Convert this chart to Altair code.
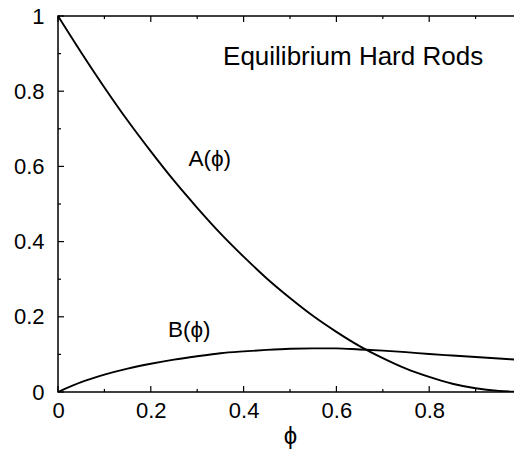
import altair as alt
import pandas as pd

# ---- data ----
phi = [0.0, 0.05, 0.1, 0.15, 0.2, 0.25, 0.3, 0.35, 0.4, 0.45, 0.5,
       0.55, 0.6, 0.65, 0.7, 0.75, 0.8, 0.85, 0.9, 0.95, 1.0]
A_vals = [1.0, 0.903, 0.81, 0.722, 0.64, 0.562, 0.49, 0.422, 0.36, 0.302, 0.25,
          0.202, 0.16, 0.122, 0.09, 0.062, 0.04, 0.022, 0.01, 0.003, 0.0]
B_vals = [0.0, 0.026, 0.046, 0.062, 0.075, 0.086, 0.095, 0.103, 0.108, 0.112, 0.115,
          0.116, 0.116, 0.113, 0.110, 0.106, 0.101, 0.097, 0.093, 0.089, 0.085]
major_ticks = [0.0, 0.2, 0.4, 0.6, 0.8, 1.0]
minor_ticks = [0.1, 0.3, 0.5, 0.7, 0.9]

W, H = 464, 376
FONT = "Liberation Sans"

df = pd.DataFrame({
    "phi": phi + phi,
    "value": A_vals + B_vals,
    "curve": ["A"] * len(phi) + ["B"] * len(phi),
})
major_df = pd.DataFrame({"phi": major_ticks, "value": major_ticks})
minor_df = pd.DataFrame({"phi": minor_ticks, "value": minor_ticks})

xs = alt.Scale(domain=[0, 1], nice=False, zero=False)
ys = alt.Scale(domain=[0, 1], nice=False, zero=False)

common_axis = dict(values=major_ticks, format=".1~f", ticks=False, tickSize=0,
                   domain=False, grid=False, labelFont=FONT, labelFontSize=22,
                   labelColor="black", labelFlush=False, labelOverlap=False)

lines = alt.Chart(df).mark_line(color="black", strokeWidth=1.9,
                                interpolate="monotone", clip=True).encode(
    x=alt.X("phi:Q", scale=xs,
            axis=alt.Axis(title="ϕ", labelPadding=8, titleFont=FONT,
                          titleFontSize=24, titleFontWeight="normal",
                          titleColor="black", titlePadding=3, **common_axis)),
    y=alt.Y("value:Q", scale=ys,
            axis=alt.Axis(title="", labelPadding=14, **common_axis)),
    detail="curve:N",
)


def xticks(data, length, top):
    y0 = 0 if top else H
    y1 = length if top else H - length
    return alt.Chart(data).mark_rule(color="black", strokeWidth=1.2).encode(
        x=alt.X("phi:Q", scale=xs),
        y=alt.value(y0), y2=alt.value(y1))


def yticks(data, length, right):
    x0 = W if right else 0
    x1 = W - length if right else length
    return alt.Chart(data).mark_rule(color="black", strokeWidth=1.2).encode(
        y=alt.Y("value:Q", scale=ys),
        x=alt.value(x0), x2=alt.value(x1))


tick_layers = [
    xticks(major_df, 6, False), xticks(minor_df, 3, False),
    xticks(major_df, 6, True), xticks(minor_df, 3, True),
    yticks(major_df, 6, False), yticks(minor_df, 3, False),
    yticks(major_df, 6, True), yticks(minor_df, 3, True),
]


def label(text, x, y, size):
    return alt.Chart().mark_text(text=text, font=FONT, fontSize=size,
                                 color="black", align="center",
                                 baseline="middle").encode(
        x=alt.datum(x), y=alt.datum(y))


labels = [
    label("Equilibrium Hard Rods", 0.636, 0.89, 26),
    label("A(ϕ)", 0.327, 0.62, 22.5),
    label("B(ϕ)", 0.283, 0.165, 22.5),
]

chart = alt.layer(lines, *tick_layers, *labels).properties(
    width=W, height=H,
    padding={"left": 50, "top": 8, "right": -8, "bottom": 57},
    autosize=alt.AutoSizeParams(type="none"),
).configure_view(stroke="black", strokeWidth=1.5)

chart.save("out.html", embed_options={"renderer": "svg", "actions": False})
